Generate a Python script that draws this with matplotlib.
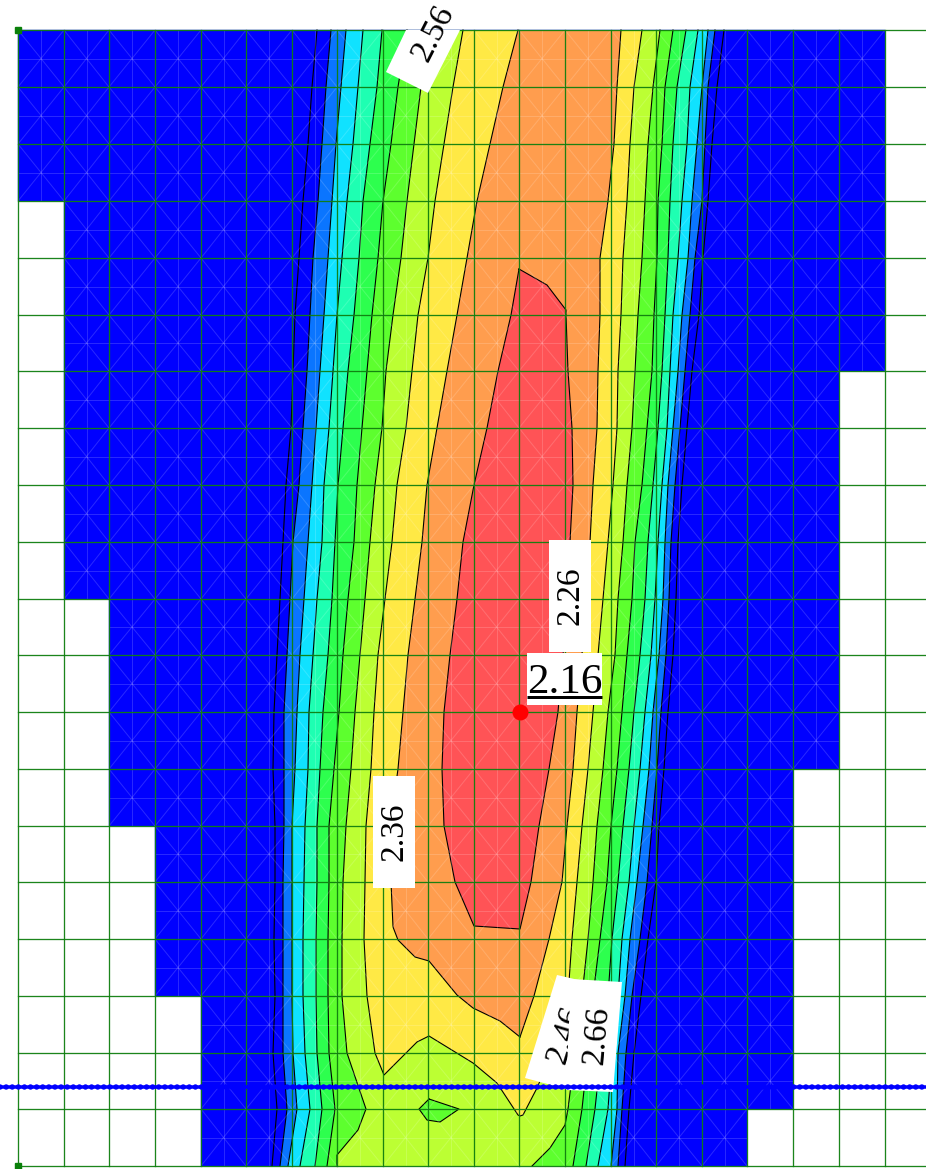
#!/usr/bin/env python3

import matplotlib
matplotlib.use("Agg")
import matplotlib.pyplot as plt

# image pixel positions of the mesh lines
x_cols = [18, 64, 109, 155, 201, 246, 292, 337, 383, 428, 474, 519, 565, 611, 656, 702, 747, 793, 839, 885]
y_rows = [30, 87, 144, 201, 258, 315, 371, 428, 485, 542, 599, 655, 712, 769, 826, 882, 939, 996, 1053, 1109, 1166]

# last mesh row reached by each column of elements
col_bottom = [3, 10, 14, 17, 20, 20, 20, 20, 20, 20, 20, 20, 20, 20, 20, 20, 19, 13, 6]

# contour lines read at each mesh row, left side
dash_l = [317, 312, 308, 303, 299, 295, 293, 291, 286, 283, 280, 277, 274, 273, 275, 275, 274, 275, 273, 277, 272]
azure_l = [331, 326, 322, 318, 313, 310, 307, 303, 299, 293, 290, 287, 284, 284, 284, 283, 283, 283, 283, 287, 280]
cyan_l = [346, 341, 336, 332, 328, 324, 320, 316, 312, 308, 304, 300, 297, 295, 292, 292, 292, 292, 293, 297, 288]
aqua_l = [363, 358, 353, 347, 342, 337, 333, 329, 324, 322, 317, 313, 309, 308, 305, 304, 303, 303, 305, 310, 300]
green_l = [382, 377, 370, 363, 359, 354, 348, 343, 338, 335, 332, 328, 323, 320, 317, 317, 316, 316, 317, 322, 315]
lgreen_l = [407, 398, 391, 383, 378, 372, 367, 362, 357, 354, 348, 343, 339, 334, 329, 329, 328, 328, 329, 335, 327]
lime_l = [432, 421, 414, 407, 401, 393, 386, 382, 375, 370, 365, 360, 355, 351, 346, 343, 342, 342, 347, 366]
yellow_l = [463, 453, 444, 435, 428, 418, 412, 406, 397, 392, 385, 378, 374, 371, 366, 365, 364, 367]
orange_l = [518, 503, 490, 477, 467, 457, 447, 437, 427, 422, 415, 408, 403, 398, 390, 391]

# right side
orange_r = [621, 617, 614, 608, 600, 600, 598, 597, 593, 590, 585, 582, 577, 573, 567, 562, 549, 534]
yellow_r = [642, 634, 630, 627, 623, 621, 618, 617, 613, 608, 603, 598, 593, 588, 582, 577, 572, 568, 552]
lime_r = [660, 653, 648, 645, 642, 638, 635, 632, 627, 623, 618, 615, 608, 603, 597, 593, 588, 582, 575, 568]
lgreen_r = [673, 665, 662, 658, 657, 654, 652, 647, 642, 635, 632, 627, 622, 617, 611, 607, 600, 593, 588, 582, 573]
green_r = [686, 677, 673, 670, 668, 665, 662, 658, 653, 648, 645, 640, 634, 629, 623, 618, 612, 608, 601, 595, 586]
aqua_r = [698, 690, 687, 682, 678, 673, 670, 667, 662, 658, 655, 651, 645, 640, 634, 629, 622, 618, 612, 608, 598]
cyan_r = [708, 702, 697, 692, 688, 682, 678, 673, 668, 665, 663, 659, 653, 649, 643, 637, 630, 625, 618, 617, 611]
azure_r = [715, 708, 705, 702, 695, 690, 685, 680, 675, 671, 669, 666, 661, 657, 652, 647, 640, 632, 626, 622, 618]
dash_r = [724, 717, 712, 708, 703, 699, 692, 687, 682, 678, 676, 673, 668, 664, 659, 656, 648, 641, 634, 629, 625]

# bits of the contours that do not follow the rows
lime_tail_x = [358, 337, 337]
lime_tail_y = [1130, 1155, 1166]
lime_r_tail_x = [565, 550, 532]
lime_r_tail_y = [1125, 1148, 1166]
yellow_tail_x = [375, 384, 417, 429, 473, 497, 518, 520, 523, 537]
yellow_tail_y = [1053, 1075, 1042, 1036, 1063, 1083, 1115, 1116, 1115, 1088]
orange_tail_x = [393, 398, 415, 429, 457, 473, 500, 520]
orange_tail_y = [927, 940, 957, 961, 995, 1008, 1021, 1037]
red_l = [511, 498, 487, 474, 463, 457, 450, 444, 442, 444, 455]
red_r = [566, 568, 572, 573, 570, 567, 563, 558, 549, 539, 531]
red_top_x = [474, 519, 547, 566]
red_top_y = [926, 269, 285, 310]
red_bottom_x = [520]
red_bottom_y = [929]
island_x = [429, 459, 440, 427, 419, 429]
island_y = [1099, 1109, 1122, 1120, 1109, 1099]

max_point = (520, 712)
section_y = 1087

px = 0.72

fig = plt.figure(figsize=(9.26, 11.69), dpi=100)
ax = fig.add_axes([0, 0, 1, 1])
ax.set_xlim(0, 926)
ax.set_ylim(1169, 0)
ax.axis("off")


def band(lx, ly, rx, ry, color):
    # filled region between a left and a right contour, both outlined
    ax.fill(lx + rx[::-1], ly + ry[::-1], color=color, lw=0, zorder=2)
    ax.plot(lx, ly, color="black", lw=1.1 * px, zorder=3)
    ax.plot(rx, ry, color="black", lw=1.1 * px, zorder=3)


# blue base, one column at a time
for i, last in enumerate(col_bottom):
    ax.fill([x_cols[i], x_cols[i + 1], x_cols[i + 1], x_cols[i]],
            [y_rows[0], y_rows[0], y_rows[last], y_rows[last]],
            color="#0000ff", lw=0.3, zorder=1)

ax.plot(dash_l, y_rows, color="black", lw=1.1 * px, zorder=3)
ax.plot(dash_r, y_rows, color="black", lw=1.1 * px, zorder=3)

band(azure_l, y_rows, azure_r, y_rows, "#0a75ff")
band(cyan_l, y_rows, cyan_r, y_rows, "#10e2ff")
band(aqua_l, y_rows, aqua_r, y_rows, "#1effb2")
band(green_l, y_rows, green_r, y_rows, "#2dff4e")
band(lgreen_l, y_rows, lgreen_r, y_rows, "#5dff2e")
band(lime_l + lime_tail_x, y_rows[:20] + lime_tail_y,
     lime_r + lime_r_tail_x, y_rows[:20] + lime_r_tail_y, "#bcff33")

yellow_left = yellow_l + yellow_tail_x
yellow_left_y = y_rows[:18] + yellow_tail_y
band(yellow_left, yellow_left_y, yellow_r, y_rows[:19], "#ffe945")
ax.plot([yellow_left[-1], yellow_r[-1]], [yellow_left_y[-1], y_rows[18]], color="black", lw=1.1 * px, zorder=3)

band(orange_l + orange_tail_x, y_rows[:16] + orange_tail_y,
     orange_r + [orange_tail_x[-1]], y_rows[:18] + [orange_tail_y[-1]], "#ff9d4e")

red_xs = red_top_x[1:] + red_r + red_bottom_x + red_top_x[:1] + red_l[::-1] + [red_top_x[1]]
red_ys = red_top_y[1:] + y_rows[5:16] + red_bottom_y + red_top_y[:1] + y_rows[5:16][::-1] + [red_top_y[1]]
ax.fill(red_xs, red_ys, color="#ff5356", lw=0, zorder=2)
ax.plot(red_xs, red_ys, color="black", lw=1.1 * px, zorder=3)

ax.fill(island_x, island_y, color="#5dff2e", lw=0, zorder=2)
ax.plot(island_x, island_y, color="black", lw=1.1 * px, zorder=3)

# element mesh, faint white lines
for i, last in enumerate(col_bottom):
    x0, x1 = x_cols[i], x_cols[i + 1]
    xm = (x0 + x1) / 2
    for j in range(last):
        y0, y1 = y_rows[j], y_rows[j + 1]
        ym = (y0 + y1) / 2
        for xs, ys in [([x0, x1], [y0, y1]), ([x0, x1], [y1, y0]),
                       ([xm, xm], [y0, y1]), ([x0, x1], [ym, ym])]:
            ax.plot(xs, ys, color="white", alpha=0.16, lw=1.0 * px, zorder=4)

# green grid
for x in x_cols:
    ax.plot([x, x], [y_rows[0], y_rows[-1]], color="#0f7f0f", alpha=0.95, lw=1.3 * px, zorder=5)
for y in y_rows:
    ax.plot([x_cols[0], 926], [y, y], color="#0f7f0f", alpha=0.95, lw=1.3 * px, zorder=5)
ax.plot([x_cols[0], x_cols[0]], [y_rows[0], y_rows[-1]], marker="s", ms=4.5, ls="none", color="#0a800a", zorder=6)

# contour labels
serif = "Liberation Serif"
ax.fill([386, 428, 460, 406], [72, 93, 30, 30], color="white", lw=0, zorder=7)
ax.text(433, 33, "2.56", family=serif, fontsize=24, rotation=63, rotation_mode="anchor",
        ha="center", va="center", zorder=8)

ax.fill([549, 591, 591, 549], [540, 540, 652, 652], color="white", lw=0, zorder=7)
ax.text(570, 596, "2.26", family=serif, fontsize=24, rotation=90, rotation_mode="anchor",
        ha="center", va="center", zorder=8)

ax.fill([373, 415, 415, 373], [776, 776, 888, 888], color="white", lw=0, zorder=7)
ax.text(394, 832, "2.36", family=serif, fontsize=24, rotation=90, rotation_mode="anchor",
        ha="center", va="center", zorder=8)

ax.fill([557, 600, 570, 525], [975, 985, 1090, 1078], color="white", lw=0, zorder=7)
ax.text(565, 1035, "2.46", family=serif, fontsize=24, rotation=73, rotation_mode="anchor",
        ha="center", va="center", zorder=8)
ax.fill([571, 622, 613, 566], [979, 982, 1092, 1090], color="white", lw=0, zorder=9)
ax.text(597, 1035, "2.66", family=serif, fontsize=24, rotation=85, rotation_mode="anchor",
        ha="center", va="center", zorder=10)

ax.fill([527, 602, 602, 527], [653, 653, 705, 705], color="white", lw=0, zorder=11)
ax.text(564.5, 693, "2.16", family=serif, fontsize=31, ha="center", va="baseline", zorder=12)
ax.plot([527, 602], [696.5, 696.5], color="black", lw=3 * px, solid_capstyle="butt", zorder=12)

# section line and the extreme point
ax.plot([0, 926], [section_y, section_y], color="#0000ff", lw=3.5 * px, zorder=13)
ax.plot([0, 926], [section_y, section_y], color="#0000ff", lw=5.5 * px,
        linestyle=(0, (0.01, 1.1)), dash_capstyle="round", zorder=13)
ax.plot(*max_point, marker="o", ms=16 * px, color="#ff0000", mew=0, zorder=14)

fig.savefig("out.png", dpi=100)
